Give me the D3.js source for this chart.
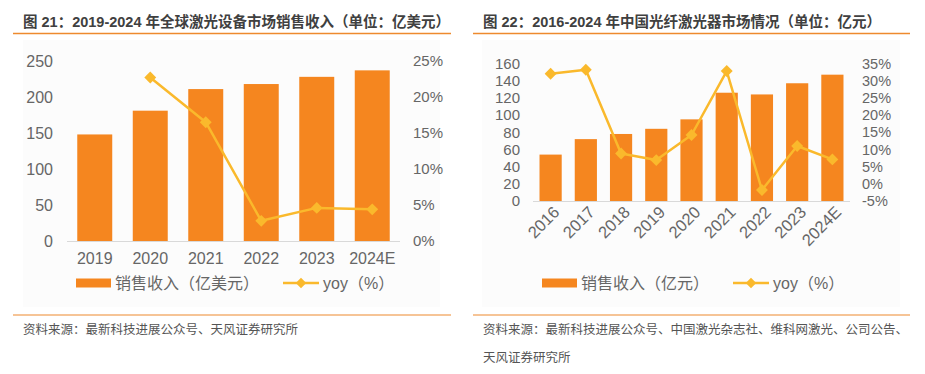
<!DOCTYPE html>
<html><head><meta charset="utf-8">
<script src="https://cdn.jsdelivr.net/npm/d3@7/dist/d3.min.js"></script>
<style>
body{margin:0;background:#fff;}
svg{display:block;font-family:"Liberation Sans","Noto Sans CJK SC",Arial,sans-serif;}
</style></head>
<body><svg id="c" width="925" height="374"></svg>
<script>
// Left chart data
const cats1 = ["2019","2020","2021","2022","2023","2024E"];
const sales1 = [148, 181, 211, 218, 228, 237];
const yoy1 = [null, 22.7, 16.5, 2.8, 4.6, 4.4];
const leftTicks1 = [0,50,100,150,200,250];
const rightTicks1 = [0,5,10,15,20,25];

// Right chart data
const cats2 = ["2016","2017","2018","2019","2020","2021","2022","2023","2024E"];
const sales2 = [54, 72, 78, 84, 95, 126, 124, 137, 147];
const yoy2 = [32.0, 33.2, 8.8, 6.9, 14.2, 32.8, -1.8, 11.0, 7.1];
const leftTicks2 = [0,20,40,60,80,100,120,140,160];
const rightTicks2 = [-5,0,5,10,15,20,25,30,35];

const title1 = "图 21：2019-2024 年全球激光设备市场销售收入（单位：亿美元）";
const title2 = "图 22：2016-2024 年中国光纤激光器市场情况（单位：亿元）";
const legBar1 = "销售收入（亿美元）";
const legBar2 = "销售收入（亿元）";
const legLine = "yoy（%）";
const src1 = ["资料来源：最新科技进展公众号、天风证券研究所"];
const src2 = ["资料来源：最新科技进展公众号、中国激光杂志社、维科网激光、公司公告、", "天风证券研究所"];

const BAR = "#F5861F", LINE = "#FAB92C", TXT = "#666666", ORANGE = "#EE8A2E";
const svg = d3.select("#c");

function panel(o){
  const g = svg.append("g");
  g.append("rect").attr("x",o.bg[0]).attr("y",o.bg[1]).attr("width",o.bg[2]).attr("height",o.bg[3]).attr("fill","#fcfcfc");
  g.append("text").attr("x",o.tx).attr("y",27).attr("font-size",14.5).attr("font-weight","bold")
    .attr("fill","#404040").text(o.title);
  g.append("line").attr("x1",o.lx1).attr("x2",o.lx2).attr("y1",33.5).attr("y2",33.5).attr("stroke",ORANGE).attr("stroke-width",1.5);
  g.append("line").attr("x1",o.lx1).attr("x2",o.lx2).attr("y1",315).attr("y2",315).attr("stroke",ORANGE).attr("stroke-width",1.2);
  o.src.forEach((s,i)=>g.append("text").attr("x",o.tx).attr("y",334+i*28).attr("font-size",12.5).attr("fill","#555").text(s));

  const x = d3.scaleBand().domain(o.cats).range([o.px0,o.px1]).paddingInner(o.pad).paddingOuter(o.pad/2);
  const yL = d3.scaleLinear().domain(o.ldom).range([o.py1,o.py0]);
  const yR = d3.scaleLinear().domain(o.rdom).range([o.py1,o.py0]);

  g.append("line").attr("x1",o.px0).attr("x2",o.px1).attr("y1",yL(0)+0.5).attr("y2",yL(0)+0.5).attr("stroke","#d9d9d9").attr("stroke-width",1);

  g.selectAll(".bar").data(o.sales).enter().append("rect")
    .attr("x",(d,i)=>x(o.cats[i])).attr("width",x.bandwidth())
    .attr("y",d=>yL(d)).attr("height",d=>yL(0)-yL(d)).attr("fill",BAR);

  const aL = g.append("g").attr("transform",`translate(${o.px0},0)`)
    .call(d3.axisLeft(yL).tickValues(o.lt).tickSize(0).tickPadding(o.lpad));
  aL.select(".domain").remove();
  aL.selectAll("text").attr("font-size",o.fs).attr("fill",TXT).style("font-family","Liberation Sans, Arial");
  const aR = g.append("g").attr("transform",`translate(${o.px1},0)`)
    .call(d3.axisRight(yR).tickValues(o.rt).tickSize(0).tickPadding(o.rpad).tickFormat(d=>d+"%"));
  aR.select(".domain").remove();
  aR.selectAll("text").attr("font-size",o.fsR).attr("fill",TXT).style("font-family","Liberation Sans, Arial");

  const aX = g.append("g").attr("transform",`translate(0,${yL(0)})`)
    .call(d3.axisBottom(x).tickSize(0).tickPadding(o.xpad));
  aX.select(".domain").remove();
  aX.selectAll("text").attr("font-size",o.fsX).attr("fill",TXT).style("font-family","Liberation Sans, Arial");
  if(o.rotate){
    aX.selectAll("text").attr("text-anchor","end").attr("dy","0.35em")
      .attr("transform","rotate(-45)").attr("dx","-0.1em");
  }

  const pts = o.yoy.map((v,i)=>({v, c:o.cats[i]})).filter(p=>p.v!==null);
  const line = d3.line().x(p=>x(p.c)+x.bandwidth()/2).y(p=>yR(p.v));
  g.append("path").datum(pts).attr("d",line).attr("fill","none").attr("stroke",LINE).attr("stroke-width",2.5).attr("stroke-linejoin","round");
  g.selectAll(".mk").data(pts).enter().append("path")
    .attr("transform",p=>`translate(${x(p.c)+x.bandwidth()/2},${yR(p.v)})`)
    .attr("d",d3.symbol(d3.symbolDiamond2,90)()).attr("fill",LINE);

  const ly = 283;
  g.append("rect").attr("x",o.leg[0]).attr("y",ly-4.5).attr("width",35).attr("height",9).attr("fill",BAR);
  g.append("text").attr("x",o.leg[0]+39).attr("y",ly).attr("dy","0.35em").attr("font-size",16).attr("fill",TXT).text(o.legBar);
  g.append("line").attr("x1",o.leg[1]).attr("x2",o.leg[1]+36).attr("y1",ly).attr("y2",ly).attr("stroke",LINE).attr("stroke-width",2.5);
  g.append("path").attr("transform",`translate(${o.leg[1]+18},${ly})`).attr("d",d3.symbol(d3.symbolDiamond2,70)()).attr("fill",LINE);
  g.append("text").attr("x",o.leg[1]+40).attr("y",ly).attr("dy","0.35em").attr("font-size",16).attr("fill",TXT).text(legLine);
}

panel({title:title1, tx:23, lx1:13, lx2:451, src:src1, bg:[23,40,417,267],
  cats:cats1, sales:sales1, yoy:yoy1, px0:67, px1:400, py0:61, py1:241, pad:0.37,
  ldom:[0,250], rdom:[0,25], lt:leftTicks1, rt:rightTicks1, lpad:14, rpad:13, xpad:12,
  fs:16, fsR:15, fsX:16, rotate:false, legBar:legBar1, leg:[76,283]});

panel({title:title2, tx:483, lx1:473, lx2:910, src:src2, bg:[482,40,418,267],
  cats:cats2, sales:sales2, yoy:yoy2, px0:533, px1:850, py0:63.5, py1:201, pad:0.37,
  ldom:[0,160], rdom:[-5,35], lt:leftTicks2, rt:rightTicks2, lpad:13, rpad:12, xpad:10,
  fs:15, fsR:14.5, fsX:16.5, rotate:true, legBar:legBar2, leg:[542,733]});
</script></body></html>
